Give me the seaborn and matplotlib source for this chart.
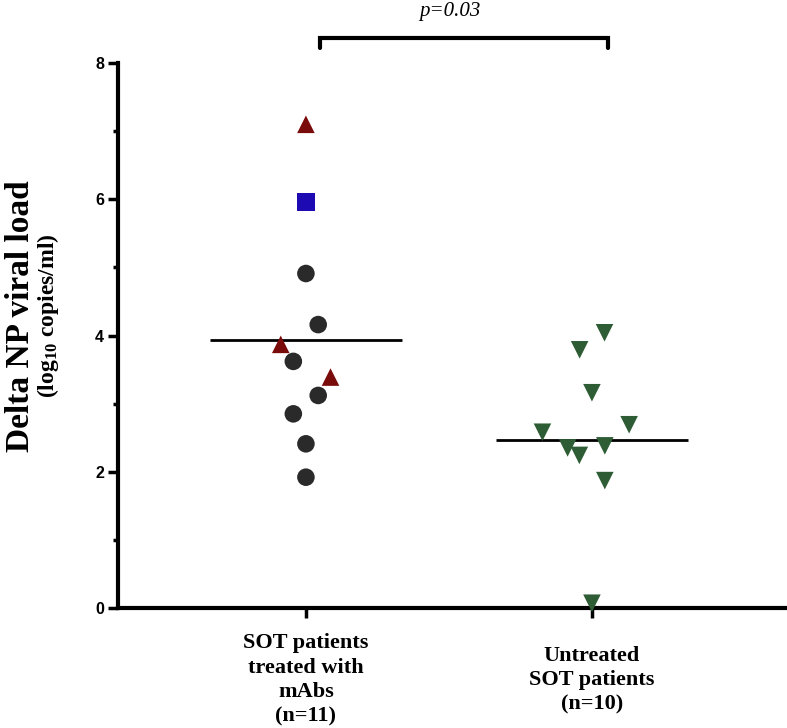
import numpy as np
import pandas as pd
import matplotlib
matplotlib.use("Agg")
import matplotlib.pyplot as plt
import seaborn as sns

# data
groups = ["SOT patients\ntreated with\nmAbs\n(n=11)", "Untreated\nSOT patients\n(n=10)"]

treated_values = [7.10, 5.96, 4.91, 4.16, 3.87, 3.62, 3.39, 3.12, 2.85, 2.41, 1.92]
treated_kind = ["tri", "square", "circle", "circle", "tri", "circle", "tri",
                "circle", "circle", "circle", "circle"]
treated_jitter = [0, 0, 0, 0.043, -0.088, -0.044, 0.086, 0.043, -0.044, 0, 0]

untreated_values = [4.04, 3.79, 3.16, 2.69, 2.58, 2.38, 2.35, 2.24, 1.87, 0.07]
untreated_kind = ["down"] * 10
untreated_jitter = [0.044, -0.043, 0, 0.13, -0.173, 0.045, -0.085, -0.044, 0.045, 0]

group_lines = [3.94, 2.46]
p_label = "p=0.03"

sns.set_style("ticks", rc={"axes.edgecolor": "black", "xtick.color": "black",
                           "ytick.color": "black", "text.color": "black"})
plt.rcParams["mathtext.fontset"] = "custom"
plt.rcParams["mathtext.rm"] = "Liberation Serif:bold"
plt.rcParams["mathtext.default"] = "rm"

df = pd.DataFrame({
    "group": [0] * len(treated_values) + [1] * len(untreated_values),
    "value": treated_values + untreated_values,
    "kind": treated_kind + untreated_kind,
    "jitter": treated_jitter + untreated_jitter,
})
df["xpos"] = df["group"] + df["jitter"]

palette = {"tri": "#7a0b0b", "square": "#1d0ab2", "circle": "#2a2a2a", "down": "#2e5d35"}
markers = {"tri": "^", "square": "s", "circle": "o", "down": "v"}

fig = plt.figure(figsize=(7.87, 7.28), dpi=100)
ax = fig.add_axes([118 / 787, 120 / 728, 1 - 118 / 787, 545 / 728])

sns.scatterplot(data=df, x="xpos", y="value", hue="kind", style="kind",
                palette=palette, markers=markers, s=160, linewidth=0,
                legend=False, ax=ax, clip_on=False, zorder=3)

pos = np.arange(len(groups))
ax.hlines(group_lines, pos - 0.335, pos + 0.335, color="black", lw=2, zorder=2)

ax.set_xlim(-0.657, 1.682)
ax.set_ylim(0, 8)
ax.set_xlabel("")
ax.set_ylabel("")
sns.despine(ax=ax)
for s in ["left", "bottom"]:
    ax.spines[s].set_linewidth(3)

ax.set_yticks([0, 2, 4, 6, 8])
ax.set_yticks([1, 3, 5, 7], minor=True)
ax.set_yticklabels(["0", "2", "4", "6", "8"], family="Liberation Sans",
                   fontweight="bold", fontsize=11.5)
ax.tick_params(axis="y", which="major", length=7, width=2.5, pad=3)
ax.tick_params(axis="y", which="minor", length=3.5, width=2.5)

ax.set_xticks(pos)
ax.set_xticklabels(groups, family="Liberation Serif", fontweight="bold",
                   fontsize=16, linespacing=1.3)
for lbl in ax.get_xticklabels():
    lbl.set_va("center")
ax.tick_params(axis="x", length=7, width=2.5, pad=45)

# significance bracket
ax.plot([0.05, 0.05, 1.055, 1.055], [8.22, 8.37, 8.37, 8.22], color="black",
        lw=3, clip_on=False, solid_joinstyle="miter")
ax.text(0.503, 8.69, p_label, style="italic", family="Liberation Serif",
        fontsize=15, ha="center", va="baseline", clip_on=False)

fig.text(21 / 787, 1 - 316 / 728, "Delta NP viral load", rotation=90,
         ha="center", va="center", fontsize=24, fontweight="bold",
         family="Liberation Serif")
fig.text(48 / 787, 1 - 316 / 728, r"(log$_{10}$ copies/ml)", rotation=90,
         ha="center", va="center", fontsize=17, fontweight="bold",
         family="Liberation Serif")

fig.savefig("out.png", dpi=100)
